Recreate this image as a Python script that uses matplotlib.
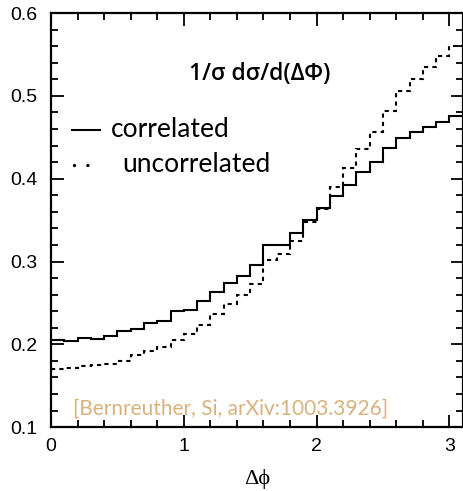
import numpy as np
import matplotlib
matplotlib.use("Agg")
import matplotlib.pyplot as plt
from matplotlib.ticker import MultipleLocator

# bin edges in delta phi (width 0.1)
edges = np.linspace(0.0, 3.1, 32)

# normalised distributions 1/sigma dsigma/d(dphi)
correlated = [0.2057, 0.2045, 0.208, 0.2065, 0.210, 0.2157, 0.219, 0.2257,
              0.2283, 0.2404, 0.2418, 0.2529, 0.2626, 0.2743, 0.2825, 0.2955,
              0.3195, 0.3195, 0.3345, 0.3498, 0.3646, 0.3785, 0.392, 0.4075,
              0.420, 0.437, 0.449, 0.4567, 0.4627, 0.4688, 0.4757]
uncorrelated = [0.1705, 0.1713, 0.1737, 0.175, 0.1763, 0.180, 0.1866, 0.1915,
                0.197, 0.2049, 0.213, 0.2232, 0.2368, 0.249, 0.259, 0.273,
                0.3015, 0.3095, 0.3245, 0.3478, 0.363, 0.390, 0.4123, 0.4357,
                0.4567, 0.4817, 0.5063, 0.520, 0.5354, 0.5475, 0.5596]

fig = plt.figure(figsize=(4.64, 4.91), dpi=100)
ax = fig.add_axes([0.110, 0.130, 0.887, 0.8435])

ax.stairs(correlated, edges, color="black", linewidth=1.5, baseline=None)
ax.stairs(uncorrelated, edges, color="black", linewidth=1.5, baseline=None,
          linestyle=(0, (2.0, 2.0)))

ax.set_xlim(0, 3.1)
ax.set_ylim(0.1, 0.6)

ax.xaxis.set_major_locator(MultipleLocator(1))
ax.xaxis.set_minor_locator(MultipleLocator(0.2))
ax.yaxis.set_major_locator(MultipleLocator(0.1))
ax.yaxis.set_minor_locator(MultipleLocator(0.02))
ax.yaxis.set_major_formatter(lambda v, p: f"{v:.1f}")
ax.tick_params(which="both", direction="in", top=True, right=True, width=1.3)
ax.tick_params(which="major", length=9, labelsize=14, pad=8)
ax.tick_params(axis="y", which="major", pad=10)
ax.tick_params(which="minor", length=5)
for lab in ax.get_xticklabels() + ax.get_yticklabels():
    lab.set_fontfamily("Liberation Sans")
for s in ax.spines.values():
    s.set_linewidth(1.6)

ax.set_xlabel("Δϕ", fontfamily="Liberation Serif", fontsize=16, labelpad=10)

ax.text(1.568, 0.5265, "1/σ dσ/d(ΔΦ)", fontfamily="Open Sans", fontsize=16.5,
        fontweight="semibold", ha="center", va="center")

# legend drawn by hand
ax.plot([0.16, 0.37], [0.459, 0.459], color="black", linewidth=1.5)
ax.text(0.45, 0.459, "correlated", fontfamily="Lato", fontsize=19,
        ha="left", va="center")
ax.plot([0.17, 0.37], [0.417, 0.417], color="black", linewidth=2.4,
        linestyle=(0, (0.01, 4.0)), dash_capstyle="round")
ax.text(0.54, 0.417, "uncorrelated", fontfamily="Lato", fontsize=19,
        ha="left", va="center")

ax.text(0.165, 0.122, "[Bernreuther, Si, arXiv:1003.3926]", fontfamily="Lato",
        fontsize=15, color="#D8B27E", ha="left", va="center")

fig.savefig("out.png", dpi=100)
